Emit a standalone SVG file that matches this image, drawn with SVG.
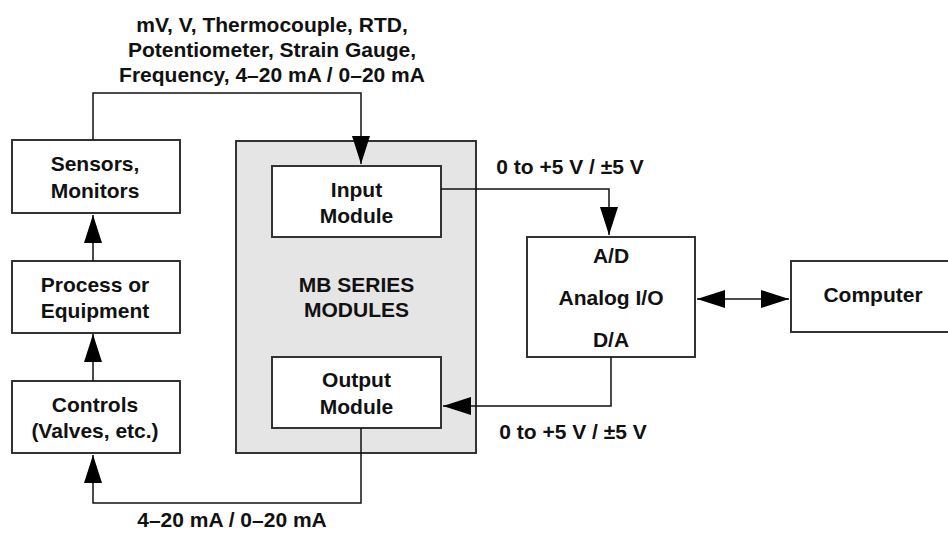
<svg xmlns="http://www.w3.org/2000/svg" width="948" height="534" viewBox="0 0 948 534">
<defs>
<style>
.box{fill:#fff;stroke:#333;stroke-width:2}
.grp{fill:#e5e5e5;stroke:#333;stroke-width:2}
.ln{fill:none;stroke:#111;stroke-width:1.5}
text{font-family:"Liberation Sans",Arial,sans-serif;font-weight:bold;font-size:21px;fill:#111;text-anchor:middle}
</style>
<marker id="ah" markerUnits="userSpaceOnUse" markerWidth="28" markerHeight="18" viewBox="0 0 28 18" refX="28" refY="9" orient="auto">
<path d="M0,0 L28,9 L0,18 z" fill="#000"/>
</marker>
<marker id="ahs" markerUnits="userSpaceOnUse" markerWidth="28" markerHeight="18" viewBox="0 0 28 18" refX="28" refY="9" orient="auto-start-reverse">
<path d="M0,0 L28,9 L0,18 z" fill="#000"/>
</marker>
</defs>
<rect width="948" height="534" fill="#fff"/>
<g id="top-label">
<text x="272" y="32">mV, V, Thermocouple, RTD,</text>
<text x="272" y="57">Potentiometer, Strain Gauge,</text>
<text x="272" y="82">Frequency, 4–20 mA / 0–20 mA</text>
</g>
<g id="mb-series">
<rect class="grp" x="236" y="141" width="240" height="312"/>
<text x="356.5" y="292">MB SERIES</text>
<text x="356.5" y="317">MODULES</text>
</g>
<g id="sensors">
<rect class="box" x="12" y="140" width="168" height="73"/>
<text x="95" y="171">Sensors,</text>
<text x="95" y="198">Monitors</text>
</g>
<g id="process">
<rect class="box" x="12" y="261" width="168" height="72"/>
<text x="95" y="292">Process or</text>
<text x="95" y="318">Equipment</text>
</g>
<g id="controls">
<rect class="box" x="12" y="381" width="168" height="72"/>
<text x="95" y="412">Controls</text>
<text x="95" y="438">(Valves, etc.)</text>
</g>
<g id="input-module">
<rect class="box" x="272" y="166" width="169" height="71"/>
<text x="356.5" y="197">Input</text>
<text x="356.5" y="223">Module</text>
</g>
<g id="output-module">
<rect class="box" x="272" y="357" width="169" height="71"/>
<text x="356.5" y="387">Output</text>
<text x="356.5" y="414">Module</text>
</g>
<g id="analog-io">
<rect class="box" x="527" y="237" width="168" height="120"/>
<text x="611" y="263">A/D</text>
<text x="611" y="305">Analog I/O</text>
<text x="611" y="347">D/A</text>
</g>
<g id="computer">
<rect class="box" x="791" y="261" width="160" height="71"/>
<text x="873" y="302">Computer</text>
</g>
<g id="connectors">
<path class="ln" d="M93,140 V93 H361 V164" marker-end="url(#ah)"/>
<path class="ln" d="M441,189 H609 V235" marker-end="url(#ah)"/>
<path class="ln" d="M611,357 V406 H443" marker-end="url(#ah)"/>
<path class="ln" d="M697,299 H789" marker-start="url(#ahs)" marker-end="url(#ah)"/>
<path class="ln" d="M361,428 V503 H93 V455" marker-end="url(#ah)"/>
<path class="ln" d="M93,381 V334" marker-end="url(#ah)"/>
<path class="ln" d="M93,261 V215" marker-end="url(#ah)"/>
</g>
<g id="labels">
<text x="570" y="174">0 to +5 V / ±5 V</text>
<text x="573" y="439">0 to +5 V / ±5 V</text>
<text x="232" y="527">4–20 mA / 0–20 mA</text>
</g>
</svg>
